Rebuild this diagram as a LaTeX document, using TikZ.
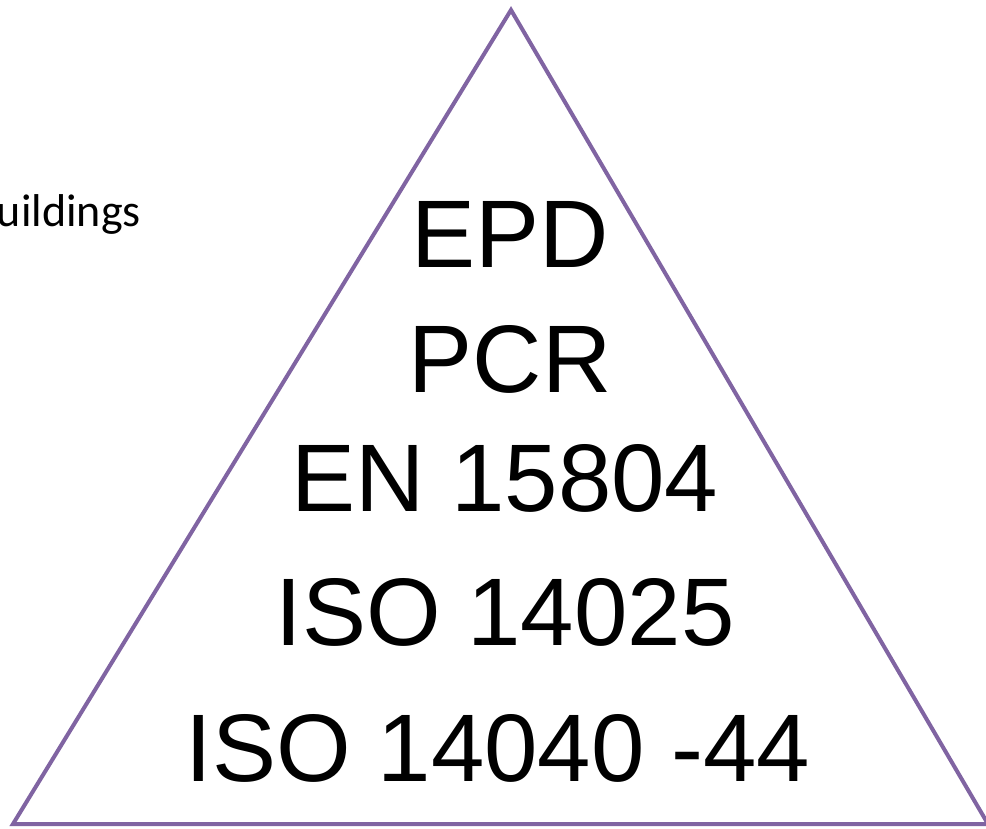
\documentclass[tikz,border=0pt]{standalone}
\usepackage{fontspec}
\usepackage{xcolor}
\usepackage{tikz}
\setmainfont{Liberation Sans}
\newfontfamily\bodyfont{Carlito}
\definecolor{edge}{HTML}{8064A2}
\definecolor{ink}{HTML}{000000}
\tikzset{
  tri/.style={line width=4pt, draw=edge, line join=miter},
  big/.style={text=ink, font=\fontsize{96}{96}\selectfont, anchor=base, inner sep=0pt},
  side/.style={text=ink, font=\bodyfont\fontsize{46}{46}\selectfont, anchor=base east, inner sep=0pt}
}

\begin{document}
\begin{tikzpicture}[x=1pt, y=-1pt]
  \useasboundingbox (0,0) rectangle (986,828);
  \coordinate (apex) at (511,10);
  \coordinate (bl) at (13,824);
  \coordinate (br) at (988,824);
  \draw[tri] (apex) -- (bl) -- (br) -- cycle;
  \node[side] (bld) at (141,226) {uildings};
  \node[big] (epd) at (510,267) {EPD};
  \node[big] (pcr) at (510,392) {PCR};
  \node[big] (en) at (505,511) {EN 15804};
  \node[big] (iso25) at (505,645) {ISO 14025};
  \node[big] (iso40) at (498,781) {ISO 14040 -44};
\end{tikzpicture}
\end{document}
